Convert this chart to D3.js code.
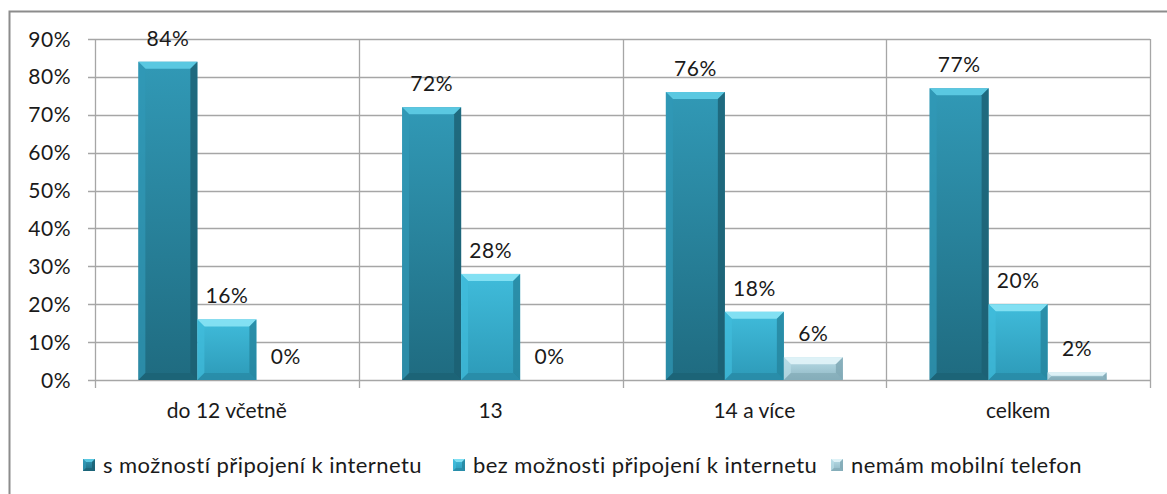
<!DOCTYPE html>
<html>
<head>
<meta charset="utf-8">
<script src="https://cdn.jsdelivr.net/npm/d3@7"></script>
<style>
  body { margin: 0; background: #fff; }
  text { font-family: Lato, "Open Sans", sans-serif; fill: #1a1a1a; }
</style>
</head>
<body>
<div id="chart"></div>
<script>
// data
var categories = ["do 12 včetně", "13", "14 a více", "celkem"];
var seriesNames = ["s možností připojení k internetu", "bez možnosti připojení k internetu", "nemám mobilní telefon"];
var withInternet = [84, 72, 76, 77];
var withoutInternet = [16, 28, 18, 20];
var noPhone = [0, 0, 6, 2];
var yTicks = [0, 10, 20, 30, 40, 50, 60, 70, 80, 90];

var seriesValues = [withInternet, withoutInternet, noPhone];
var colors = [
  { top: "#5fcde6", light: "#3199b6", dark: "#1f6b80", side: "#1b5f72" },
  { top: "#8ae4f5", light: "#40bcdb", dark: "#2d9ab8", side: "#26849e" },
  { top: "#e2f4f8", light: "#b9dde7", dark: "#8fb7c4", side: "#7ea6b3" }
];

var svgWidth = 1167;
var svgHeight = 494;
var margin = { top: 39, right: 17, bottom: 114, left: 95 };
var width = svgWidth - margin.left - margin.right;
var height = svgHeight - margin.top - margin.bottom;

var svg = d3.select("#chart")
  .append("svg")
  .attr("width", svgWidth)
  .attr("height", svgHeight);

// gradients for each series
var defs = svg.append("defs");
colors.forEach(function(c, i) {
  var g = defs.append("linearGradient")
    .attr("id", "grad" + i)
    .attr("x1", 0).attr("y1", 0).attr("x2", 0).attr("y2", 1);
  g.append("stop").attr("offset", "0%").attr("stop-color", c.light);
  g.append("stop").attr("offset", "100%").attr("stop-color", c.dark);
});

// outer frame
svg.append("rect")
  .attr("x", 9.5).attr("y", 11.5)
  .attr("width", 1170).attr("height", 500)
  .attr("fill", "none")
  .attr("stroke", "#8c8c8c")
  .attr("stroke-width", 2);

var chartGroup = svg.append("g")
  .attr("transform", `translate(${margin.left}, ${margin.top})`);

var x0 = d3.scaleBand()
  .domain(categories)
  .range([0, width])
  .paddingInner(0)
  .paddingOuter(0);

var barWidth = 59;
var groupOffset = (x0.bandwidth() - barWidth * 3) / 2;

var y = d3.scaleLinear()
  .domain([0, 90])
  .range([height, 0]);

// horizontal gridlines
chartGroup.append("g")
  .selectAll("line")
  .data(yTicks)
  .enter()
  .append("line")
  .attr("x1", -7)
  .attr("x2", width)
  .attr("y1", d => Math.round(y(d)) + 0.5)
  .attr("y2", d => Math.round(y(d)) + 0.5)
  .attr("stroke", "#a6a6a6")
  .attr("stroke-width", 1.3);

// vertical category separators
var boundaries = categories.map(c => x0(c)).concat([width]);
chartGroup.append("g")
  .selectAll("line")
  .data(boundaries)
  .enter()
  .append("line")
  .attr("x1", d => Math.round(d) + 0.5)
  .attr("x2", d => Math.round(d) + 0.5)
  .attr("y1", 0)
  .attr("y2", height + 8)
  .attr("stroke", "#a6a6a6")
  .attr("stroke-width", 1.3);

// y tick labels
chartGroup.append("g")
  .selectAll("text")
  .data(yTicks)
  .enter()
  .append("text")
  .attr("x", -24)
  .attr("y", d => y(d))
  .attr("dy", "0.36em")
  .attr("text-anchor", "end")
  .attr("font-size", "21px")
  .attr("letter-spacing", "0.5px")
  .text(d => d + "%");

// category labels
chartGroup.append("g")
  .selectAll("text")
  .data(categories)
  .enter()
  .append("text")
  .attr("x", d => x0(d) + x0.bandwidth() / 2)
  .attr("y", height + 38)
  .attr("text-anchor", "middle")
  .attr("font-size", "21px")
  .text(d => d);

// bevelled bars
function drawBar(g, bx, by, bw, bh, c, i) {
  var b = Math.min(7, bh / 2.2, bw / 4);
  g.append("rect")
    .attr("x", bx).attr("y", by)
    .attr("width", bw).attr("height", bh)
    .attr("fill", "url(#grad" + i + ")");
  if (bh < 1) return;
  // top bevel
  g.append("polygon")
    .attr("points", [[bx, by], [bx + bw, by], [bx + bw - b, by + b], [bx + b, by + b]].join(" "))
    .attr("fill", c.top).attr("opacity", 0.9);
  // left bevel
  g.append("polygon")
    .attr("points", [[bx, by], [bx + b, by + b], [bx + b, by + bh - b], [bx, by + bh]].join(" "))
    .attr("fill", c.light).attr("opacity", 0.7);
  // right bevel
  g.append("polygon")
    .attr("points", [[bx + bw, by], [bx + bw, by + bh], [bx + bw - b, by + bh - b], [bx + bw - b, by + b]].join(" "))
    .attr("fill", c.side).attr("opacity", 0.8);
  // bottom bevel
  g.append("polygon")
    .attr("points", [[bx, by + bh], [bx + b, by + bh - b], [bx + bw - b, by + bh - b], [bx + bw, by + bh]].join(" "))
    .attr("fill", c.side).attr("opacity", 0.6);
}

var barsGroup = chartGroup.append("g");
var labelsGroup = chartGroup.append("g");

seriesValues.forEach(function(values, i) {
  values.forEach(function(v, j) {
    var bx = x0(categories[j]) + groupOffset + i * barWidth;
    var by = y(v);
    drawBar(barsGroup, bx, by, barWidth, height - by, colors[i], i);
    labelsGroup.append("text")
      .attr("x", bx + barWidth / 2)
      .attr("y", by - 16)
      .attr("text-anchor", "middle")
      .attr("font-size", "21px")
      .attr("letter-spacing", "0.5px")
      .text(v + "%");
  });
});

// legend
var legendX = [83, 453, 831];
var legend = svg.append("g");
seriesNames.forEach(function(name, i) {
  var lg = legend.append("g")
    .attr("transform", `translate(${legendX[i]}, 459)`);
  drawBar(lg, 0, 0, 12, 12, colors[i], i);
  lg.append("text")
    .attr("x", 20)
    .attr("y", 14)
    .attr("font-size", "22px")
    .attr("letter-spacing", "0.45px")
    .text(name);
});
</script>
</body>
</html>
